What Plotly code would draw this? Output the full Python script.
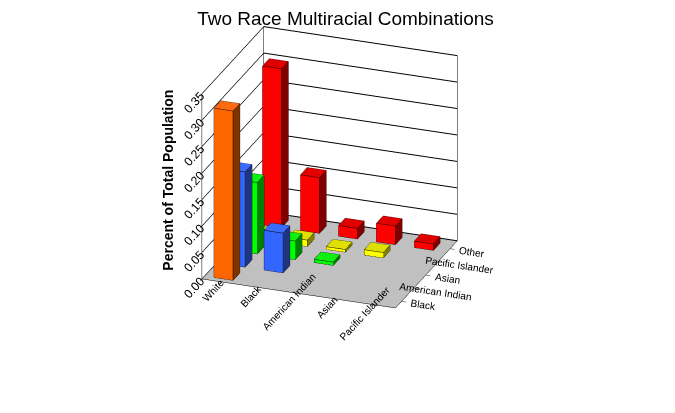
import plotly.graph_objects as go

x_labels = ["White", "Black", "American Indian", "Asian", "Pacific Islander"]
y_labels = ["Black", "American Indian", "Asian", "Pacific Islander", "Other"]

# values per depth row (series), indexed by x category
black_row = [0.32]
american_indian_row = [0.18, 0.075]
asian_row = [0.135, 0.035, 0.006]
pacific_islander_row = [0.01, 0.012, 0.005, 0.01]
other_row = [0.30, 0.105, 0.02, 0.035, 0.012]

series = [black_row, american_indian_row, asian_row, pacific_islander_row, other_row]
front_colors = ["#FF6600", "#3366FF", "#00FF00", "#FFFF00", "#FF0000"]
top_colors = ["#FF6A10", "#3A6CFF", "#10F010", "#E0E000", "#E00000"]
side_colors = ["#7F3300", "#1F3580", "#008000", "#808000", "#800000"]

HW = 0.25  # half width along x
HD = 0.28  # half depth along y
XR = [-0.5, 4.6]
YR = [-0.5, 4.6]
ZR = [0, 0.35]

fig = go.Figure()

def add_bar(xc, yc, h, fc, tc, sc):
    x0, x1 = xc - HW, xc + HW
    y0, y1 = yc - HD, yc + HD
    z0, z1 = 0, h
    vx = [x0, x1, x1, x0, x0, x1, x1, x0]
    vy = [y0, y0, y1, y1, y0, y0, y1, y1]
    vz = [z0, z0, z0, z0, z1, z1, z1, z1]
    tri = [(0, 1, 2), (0, 2, 3),  # bottom
           (4, 5, 6), (4, 6, 7),  # top
           (0, 1, 5), (0, 5, 4),  # front
           (3, 2, 6), (3, 6, 7),  # back
           (0, 3, 7), (0, 7, 4),  # left
           (1, 2, 6), (1, 6, 5)]  # right
    cols = [sc, sc, tc, tc, fc, fc, sc, sc, sc, sc, sc, sc]
    fig.add_trace(go.Mesh3d(
        x=vx, y=vy, z=vz,
        i=[t[0] for t in tri], j=[t[1] for t in tri], k=[t[2] for t in tri],
        facecolor=cols, flatshading=True,
        lighting=dict(ambient=1, diffuse=0, specular=0, fresnel=0, roughness=1),
        hoverinfo="skip", showscale=False))
    edges = [(0, 1), (1, 2), (2, 3), (3, 0), (4, 5), (5, 6), (6, 7), (7, 4),
             (0, 4), (1, 5), (2, 6), (3, 7)]
    ex, ey, ez = [], [], []
    for a, b in edges:
        ex += [vx[a], vx[b], None]
        ey += [vy[a], vy[b], None]
        ez += [vz[a], vz[b], None]
    fig.add_trace(go.Scatter3d(x=ex, y=ey, z=ez, mode="lines",
                               line=dict(color="black", width=1),
                               hoverinfo="skip", showlegend=False))

for yi, row in enumerate(series):
    for xi, v in enumerate(row):
        add_bar(xi, yi, v, front_colors[yi], top_colors[yi], side_colors[yi])

# wall outlines (back-left vertical edge, wall top edges, back-right edge)
wx = [XR[0], XR[0], None, XR[0], XR[0], None, XR[0], XR[1], None, XR[1], XR[1]]
wy = [YR[1], YR[1], None, YR[0], YR[1], None, YR[1], YR[1], None, YR[1], YR[1]]
wz = [ZR[0], ZR[1], None, ZR[1], ZR[1], None, ZR[1], ZR[1], None, ZR[0], ZR[1]]
fig.add_trace(go.Scatter3d(x=wx, y=wy, z=wz, mode="lines",
                           line=dict(color="black", width=1),
                           hoverinfo="skip", showlegend=False))

font = "Liberation Sans, Arial, sans-serif"

fig.update_layout(
    width=675, height=413,
    margin=dict(l=0, r=0, t=0, b=0),
    paper_bgcolor="white",
    showlegend=False,
    font=dict(family=font, size=11, color="black"),
    title=dict(text="Two Race Multiracial Combinations", x=0.5, y=0.975,
               xanchor="center", yanchor="middle", font=dict(size=19, family=font)),
    scene=dict(
        domain=dict(x=[0.0, 1.0], y=[0.0, 1.0]),
        xaxis=dict(range=XR, tickvals=list(range(5)), ticktext=x_labels,
                   title=dict(text=""), showgrid=False, showbackground=True,
                   backgroundcolor="white", showline=True, linecolor="black",
                   ticks="outside", tickcolor="black", zeroline=False,
                   showspikes=False, tickfont=dict(size=11)),
        yaxis=dict(range=YR, tickvals=list(range(5)), ticktext=y_labels,
                   title=dict(text=""), showgrid=False, showbackground=True,
                   backgroundcolor="white", showline=True, linecolor="black",
                   ticks="outside", tickcolor="black", zeroline=False,
                   showspikes=False, tickfont=dict(size=11)),
        zaxis=dict(range=ZR, dtick=0.05, tickformat=".2f",
                   title=dict(text=""), showgrid=True, gridcolor="black",
                   showbackground=True, backgroundcolor="#C0C0C0",
                   showline=True, linecolor="black", ticks="outside",
                   tickcolor="black", zeroline=False, showspikes=False,
                   tickfont=dict(size=12)),
        aspectmode="manual", aspectratio=dict(x=1.0, y=0.86, z=0.98),
        camera=dict(eye=dict(x=0.772, y=-1.858, z=0.637),
                    center=dict(x=0.072, y=0.027, z=-0.25),
                    projection=dict(type="orthographic")),
    ),
    annotations=[dict(text="<b>Percent of Total Population</b>", x=0.222, y=0.584,
                      xref="paper", yref="paper", textangle=-90, showarrow=False,
                      font=dict(size=14, family=font))],
)

fig.write_html("out.html")
